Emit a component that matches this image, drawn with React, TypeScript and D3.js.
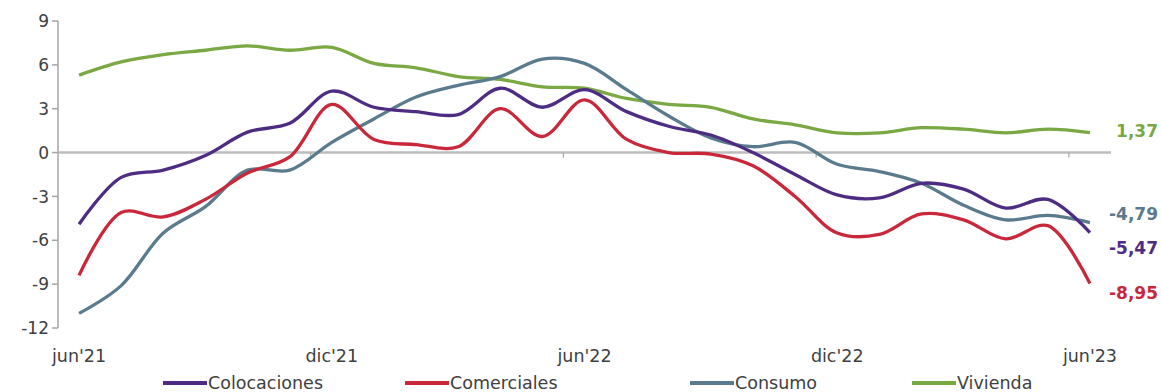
import React, { useEffect, useRef } from 'react';
import * as d3 from 'd3';

// monthly categories, jun'21 .. jun'23
const months = [
  "jun'21", "jul'21", "ago'21", "sep'21", "oct'21", "nov'21", "dic'21",
  "ene'22", "feb'22", "mar'22", "abr'22", "may'22", "jun'22",
  "jul'22", "ago'22", "sep'22", "oct'22", "nov'22", "dic'22",
  "ene'23", "feb'23", "mar'23", "abr'23", "may'23", "jun'23",
];
const shownLabels = ["jun'21", "dic'21", "jun'22", "dic'22", "jun'23"];
const yTicks = [9, 6, 3, 0, -3, -6, -9, -12];

const colocaciones = [-4.9, -1.7, -1.2, -0.2, 1.4, 2.0, 4.2, 3.1, 2.8, 2.6, 4.4, 3.1, 4.3,
  2.8, 1.8, 1.2, 0.0, -1.5, -2.9, -3.1, -2.1, -2.5, -3.8, -3.2, -5.47];
const comerciales = [-8.4, -4.1, -4.4, -3.2, -1.4, -0.3, 3.3, 0.9, 0.55, 0.4, 3.0, 1.1, 3.6,
  0.9, 0.0, -0.1, -0.9, -3.0, -5.5, -5.6, -4.2, -4.6, -5.9, -5.0, -8.95];
const consumo = [-11.0, -9.1, -5.5, -3.7, -1.2, -1.2, 0.7, 2.3, 3.8, 4.6, 5.2, 6.4, 6.1,
  4.3, 2.5, 1.0, 0.4, 0.7, -0.8, -1.3, -2.1, -3.6, -4.6, -4.3, -4.79];
const vivienda = [5.3, 6.2, 6.7, 7.0, 7.3, 7.0, 7.2, 6.1, 5.8, 5.2, 5.0, 4.5, 4.4,
  3.7, 3.3, 3.1, 2.3, 1.9, 1.35, 1.35, 1.7, 1.6, 1.35, 1.6, 1.37];

const series = [
  { name: 'Colocaciones', values: colocaciones, color: '#4f2c84', label: '-5,47', labelY: 248 },
  { name: 'Comerciales', values: comerciales, color: '#c9283b', label: '-8,95', labelY: 293 },
  { name: 'Consumo', values: consumo, color: '#5a7b8d', label: '-4,79', labelY: 214 },
  { name: 'Vivienda', values: vivienda, color: '#7aa843', label: '1,37', labelY: 131 },
];
// draw order (back to front)
const drawOrder = ['Vivienda', 'Consumo', 'Comerciales', 'Colocaciones'];
const legendX = [163, 405, 690, 912];

const W = 1161, H = 392;
const FONT = '"DejaVu Sans", Verdana, sans-serif';

const LineChart = () => {
  const ref = useRef<SVGSVGElement>(null);

  useEffect(() => {
    if (!ref.current) return;
    const svg = d3.select(ref.current);
    svg.selectAll('*').remove();

    const x = d3.scaleBand<string>().domain(months).range([58, 1111]).padding(0);
    const cx = (m: string) => (x(m) as number) + x.bandwidth() / 2;
    const y = d3.scaleLinear().domain([-12, 9]).range([328, 21]);

    // y axis
    svg.append('line')
      .attr('x1', 58).attr('x2', 58).attr('y1', y(9)).attr('y2', y(-12))
      .attr('stroke', '#a6a6a6').attr('stroke-width', 1.5);
    yTicks.forEach(t => {
      svg.append('line')
        .attr('x1', 52).attr('x2', 58).attr('y1', y(t)).attr('y2', y(t))
        .attr('stroke', '#a6a6a6').attr('stroke-width', 1.5);
      svg.append('text')
        .attr('x', 49).attr('y', y(t)).attr('dy', '0.36em')
        .attr('text-anchor', 'end')
        .attr('font-family', FONT).attr('font-size', 17).attr('fill', '#404040')
        .text(t);
    });

    // zero line (category axis)
    svg.append('line')
      .attr('x1', 58).attr('x2', 1111).attr('y1', y(0)).attr('y2', y(0))
      .attr('stroke', '#bdbdbd').attr('stroke-width', 2.5);
    months.forEach((m, i) => {
      if (i % 6 === 0 && i > 0) {
        svg.append('line')
          .attr('x1', x(m) as number).attr('x2', x(m) as number)
          .attr('y1', y(0)).attr('y2', y(0) + 5)
          .attr('stroke', '#a6a6a6').attr('stroke-width', 1.2);
      }
    });

    shownLabels.forEach(m => {
      svg.append('text')
        .attr('x', cx(m)).attr('y', 362)
        .attr('text-anchor', 'middle')
        .attr('font-family', FONT).attr('font-size', 17.5).attr('fill', '#404040')
        .text(m);
    });

    const line = d3.line<number>()
      .x((_, i) => cx(months[i]))
      .y(d => y(d))
      .curve(d3.curveCatmullRom.alpha(0.5));

    drawOrder.forEach(n => {
      const s = series.find(d => d.name === n)!;
      svg.append('path')
        .attr('d', line(s.values))
        .attr('fill', 'none')
        .attr('stroke', s.color)
        .attr('stroke-width', 3.3)
        .attr('stroke-linejoin', 'round');
    });

    // end labels
    series.forEach(s => {
      svg.append('text')
        .attr('x', 1158).attr('y', s.labelY).attr('dy', '0.36em')
        .attr('text-anchor', 'end')
        .attr('font-family', FONT).attr('font-size', 17).attr('font-weight', 'bold')
        .attr('fill', s.color)
        .text(s.label);
    });

    // legend
    series.forEach((s, i) => {
      const lx = legendX[i];
      svg.append('line')
        .attr('x1', lx).attr('x2', lx + 44).attr('y1', 383).attr('y2', 383)
        .attr('stroke', s.color).attr('stroke-width', 4);
      svg.append('text')
        .attr('x', lx + 45).attr('y', 389)
        .attr('font-family', FONT).attr('font-size', 17.5).attr('fill', '#404040')
        .text(s.name);
    });
  }, []);

  return <svg ref={ref} width={W} height={H} style={{ display: 'block' }} />;
};

export default function App() {
  return (
    <div style={{ position: 'fixed', left: 0, top: 0, width: W, height: H, background: '#fff', overflow: 'hidden' }}>
      <LineChart />
    </div>
  );
}
